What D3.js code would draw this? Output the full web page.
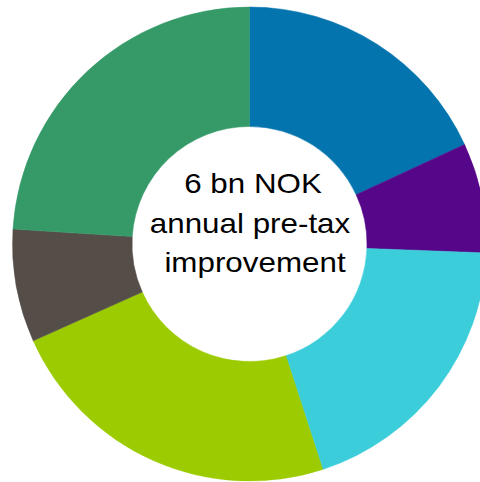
<!DOCTYPE html>
<html>
<head>
<meta charset="utf-8">
<script src="https://cdn.jsdelivr.net/npm/d3@7/dist/d3.min.js"></script>
<style>
  html, body { margin: 0; padding: 0; background: #fff; }
  svg { display: block; }
</style>
</head>
<body>
<script>
// Share of the 6 bn NOK annual pre-tax improvement, per initiative (percent)
const segments = ["Segment A", "Segment B", "Segment C", "Segment D", "Segment E", "Segment F"];
const shares = [18.1, 7.5, 19.4, 23.3, 7.7, 24.0];
const colors = ["#0474AF", "#560789", "#3CCDDA", "#9BCB00", "#554D48", "#359A68"];
const centerLines = ["6 bn NOK", "annual pre-tax", "improvement"];

const width = 480, height = 482;
const cx = 249.5, cy = 244;
const outerR = 237, innerR = 117.5;

const svg = d3.select("body").append("svg")
  .attr("width", width)
  .attr("height", height);

const data = segments.map((s, i) => ({ name: s, value: shares[i], color: colors[i] }));

const pie = d3.pie()
  .value(d => d.value)
  .sort(null)
  .startAngle(0)
  .endAngle(2 * Math.PI);

const arc = d3.arc()
  .innerRadius(innerR)
  .outerRadius(outerR);

const g = svg.append("g").attr("transform", `translate(${cx},${cy})`);

g.selectAll("path")
  .data(pie(data))
  .join("path")
  .attr("d", arc)
  .attr("fill", d => d.data.color)
  .attr("stroke", d => d.data.color)
  .attr("stroke-width", 0.5);

// Centre caption, slightly wide-set lettering
const lineDx = [3, 0, 5];
const lineY = [192.5, 232.5, 271.5];
const label = svg.append("g");
centerLines.forEach((t, i) => {
  label.append("text")
    .attr("transform", `translate(${250 + lineDx[i]},${lineY[i]}) scale(1.12,1)`)
    .attr("text-anchor", "middle")
    .attr("font-family", "Liberation Sans, Arial, sans-serif")
    .attr("font-size", 28)
    .attr("fill", "#000")
    .text(t);
});
</script>
</body>
</html>
